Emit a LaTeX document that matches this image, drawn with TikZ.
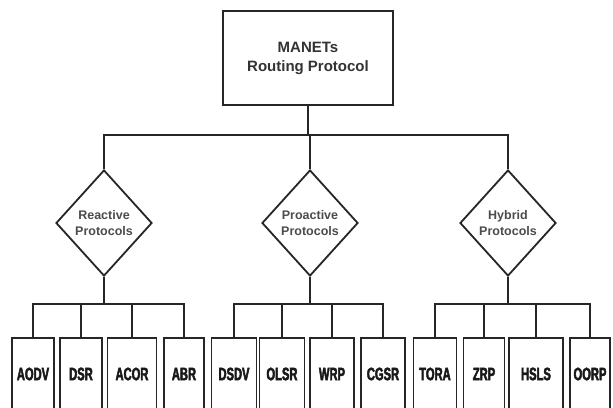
\documentclass[tikz,border=0pt]{standalone}
\usepackage{fontspec}
\setmainfont{Liberation Sans}
\newfontfamily\condfont[FakeStretch=0.62,BoldFeatures={FakeStretch=0.62,FakeBold=2.5}]{Liberation Sans}
\usetikzlibrary{shapes.geometric}
\tikzset{
  wire/.style={line width=1.8pt, draw=black!85},
  rootbox/.style={draw=black!85, line width=1.8pt, minimum width=170pt, minimum height=94pt, inner sep=0pt,
    align=center, font=\fontsize{15}{19}\selectfont\bfseries, text=black!80},
  catbox/.style={diamond, draw=black!85, line width=1.8pt, minimum width=96pt, minimum height=106pt, inner sep=0pt,
    align=center, font=\fontsize{12.5}{16}\selectfont\bfseries, text=black!70},
  leaf/.style={draw=black!85, line width=1.8pt, minimum height=72pt, inner sep=0pt,
    font={\fontsize{18}{20}\selectfont\condfont\bfseries}, text=black!90}
}
\begin{document}
\begin{tikzpicture}[x=1pt,y=-1pt]
\path[use as bounding box, clip] (0,0) rectangle (613,407);
\fill[white] (0,0) rectangle (613,407);
\node[rootbox] (root) at (308,58) {MANETs\\Routing Protocol};
\node[catbox] (re) at (104,223) {Reactive\\Protocols};
\node[catbox] (pr) at (310,223) {Proactive\\Protocols};
\node[catbox] (hy) at (508,223) {Hybrid\\Protocols};
% leaves
\node[leaf, minimum width=42pt] (aodv) at (33,374) {AODV};
\node[leaf, minimum width=42pt] (dsr)  at (81,374) {DSR};
\node[leaf, minimum width=49pt] (acor) at (132,374) {ACOR};
\node[leaf, minimum width=40pt] (abr)  at (184,374) {ABR};
\node[leaf, minimum width=45pt] (dsdv) at (234,374) {DSDV};
\node[leaf, minimum width=45pt] (olsr) at (282,374) {OLSR};
\node[leaf, minimum width=44pt] (wrp)  at (332,374) {WRP};
\node[leaf, minimum width=44pt] (cgsr) at (383,374) {CGSR};
\node[leaf, minimum width=43pt] (tora) at (435,374) {TORA};
\node[leaf, minimum width=41pt] (zrp)  at (484,374) {ZRP};
\node[leaf, minimum width=54pt] (hsls) at (536,374) {HSLS};
\node[leaf, minimum width=40pt] (oorp) at (590,374) {OORP};
% connectors
\foreach \c in {re,pr,hy} \draw[wire] (root.south) -- ++(0,29) -| (\c.north);
\foreach \c in {aodv,dsr,acor,abr} \draw[wire] (re.south) -- ++(0,27) -| (\c.north);
\foreach \c in {dsdv,olsr,wrp,cgsr} \draw[wire] (pr.south) -- ++(0,27) -| (\c.north);
\foreach \c in {tora,zrp,hsls,oorp} \draw[wire] (hy.south) -- ++(0,27) -| (\c.north);
\end{tikzpicture}
\end{document}
